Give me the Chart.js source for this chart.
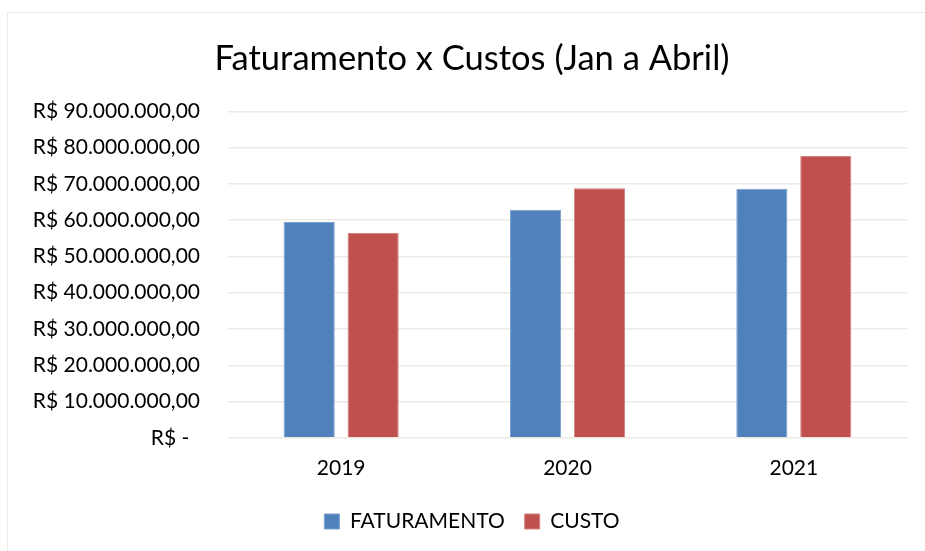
<!DOCTYPE html>
<html>
<head>
<meta charset="utf-8">
<script src="https://cdn.jsdelivr.net/npm/chart.js@4.4.0/dist/chart.umd.min.js"></script>
<style>
    html, body { margin: 0; padding: 0; background: #fff; overflow: hidden; width: 925px; height: 551px; }
    #frame { position: absolute; left: 7px; top: 12px; width: 928px; height: 560px; border: 1.5px solid #EEEAE2; }
    #wrap { position: absolute; left: 0; top: 0; width: 928px; height: 545px; }
</style>
</head>
<body>
<div id="frame"><div id="wrap"><canvas id="chart"></canvas></div></div>
<script>
    // dados
    const anos = ['2019', '2020', '2021'];
    const faturamento = [59500000, 62900000, 68700000];
    const custo = [56500000, 68800000, 77700000];
    const eixoMax = 90000000;
    const eixoPasso = 10000000;

    const fonte = 'Lato, "Open Sans", sans-serif';

    function formatarReal(v) {
        if (v === 0) return 'R$ -  ';
        return 'R$ ' + v.toLocaleString('pt-BR', { minimumFractionDigits: 2, maximumFractionDigits: 2 });
    }

    const config = {
        type: 'bar',
        data: {
            labels: anos,
            datasets: [{
                label: 'FATURAMENTO',
                data: faturamento,
                backgroundColor: '#4F81BD',
                borderColor: '#7C9FCC',
                borderWidth: 1
            }, {
                label: 'CUSTO',
                data: custo,
                backgroundColor: '#C0504D',
                borderColor: '#D48381',
                borderWidth: 1
            }]
        },
        options: {
            responsive: true,
            maintainAspectRatio: false,
            animation: false,
            layout: { padding: { left: 0, right: 0, top: 0, bottom: 16 } },
            datasets: { bar: { barPercentage: 0.8, categoryPercentage: 0.565 } },
            plugins: {
                title: {
                    display: true,
                    text: 'Faturamento x Custos (Jan a Abril)',
                    color: '#000',
                    font: { family: fonte, size: 34.5, weight: 'normal' },
                    padding: { top: 25, bottom: 32 }
                },
                legend: {
                    position: 'bottom',
                    labels: {
                        color: '#000',
                        font: { family: fonte, size: 21 },
                        boxWidth: 15,
                        boxHeight: 15,
                        padding: 20
                    }
                },
                tooltip: { enabled: false }
            },
            scales: {
                x: {
                    grid: { display: false },
                    border: { display: false },
                    ticks: { color: '#000', font: { family: fonte, size: 21 }, padding: 10 }
                },
                y: {
                    min: 0,
                    max: eixoMax,
                    afterFit: function (scale) { scale.width = 220; },
                    grid: { color: '#EEEAE2', lineWidth: 1.5, drawTicks: false },
                    border: { display: false },
                    ticks: {
                        stepSize: eixoPasso,
                        color: '#000',
                        font: { family: fonte, size: 21 },
                        padding: 28,
                        callback: function (v) { return formatarReal(v); }
                    }
                },
                // eixo vazio à direita, só para deixar a margem do gráfico
                margem: {
                    position: 'right',
                    afterFit: function (scale) { scale.width = 29; },
                    grid: { display: false },
                    border: { display: false },
                    ticks: { display: false }
                }
            }
        }
    };

    new Chart(document.getElementById('chart'), config);
</script>
</body>
</html>
